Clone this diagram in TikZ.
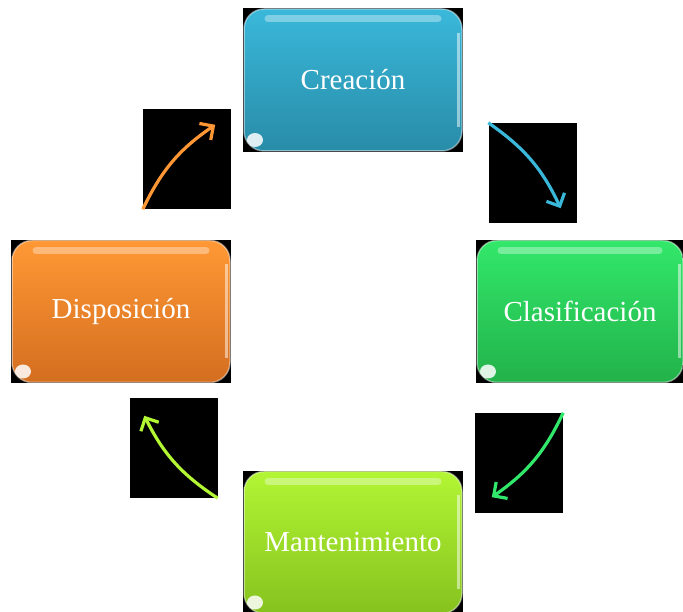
\documentclass[tikz,border=0pt]{standalone}
\usepackage{fontspec}
\setmainfont{Liberation Serif}
\usepackage{tikz}
\usetikzlibrary{shapes.geometric, arrows.meta, positioning, backgrounds}
\definecolor{creatop}{RGB}{58,184,218}
\definecolor{creabot}{RGB}{40,140,168}
\definecolor{disptop}{RGB}{255,152,52}
\definecolor{dispbot}{RGB}{212,110,32}
\definecolor{clastop}{RGB}{50,232,106}
\definecolor{clasbot}{RGB}{34,178,74}
\definecolor{manttop}{RGB}{178,246,52}
\definecolor{mantbot}{RGB}{134,194,30}
\tikzstyle{stage} = [rectangle, rounded corners=20pt, minimum width=218pt, minimum height=142pt, text centered, text=white, font=\fontsize{29}{34}\selectfont, draw=white, draw opacity=0.45, line width=1.5pt, inner sep=0pt, path picture={
    \draw[white, opacity=0.35, line width=7pt, line cap=round] ([xshift=24pt,yshift=-10pt]path picture bounding box.north west) -- ([xshift=-24pt,yshift=-10pt]path picture bounding box.north east);
    \draw[white, opacity=0.5, line width=3pt] ([xshift=-4pt,yshift=-24pt]path picture bounding box.north east) -- ([xshift=-4pt,yshift=24pt]path picture bounding box.south east);
    \fill[white, opacity=0.85] ([xshift=11pt,yshift=11pt]path picture bounding box.south west) ellipse (8pt and 7pt);}]
\tikzstyle{blackbox} = [rectangle, fill=black, minimum width=88pt, minimum height=100pt, inner sep=0pt]
\tikzstyle{arrow} = [line width=3.2pt, -{Straight Barb[length=10pt,width=20pt]}, bend left=15]

\begin{document}
\begin{tikzpicture}[x=1pt, y=1pt, node distance=231.5pt]
        \useasboundingbox (0,0) rectangle (683,612);
        \node (crea) [stage, top color=creatop, bottom color=creabot] at (353,532) {Creación};
        \node (disp) [stage, below of=crea, xshift=-232pt, top color=disptop, bottom color=dispbot] {Disposición};
        \node (clas) [stage, below of=crea, xshift=227pt, minimum width=206pt, top color=clastop, bottom color=clasbot] {Clasificación};
        \node (mant) [stage, below of=crea, yshift=-231pt, top color=manttop, bottom color=mantbot] {Mantenimiento};

        \begin{scope}[on background layer]
            \foreach \n in {crea,disp,clas,mant}
                \fill[black] (\n.north west) rectangle (\n.south east);
        \end{scope}

        \node (sqtr) [blackbox] at (532.5,439) {};
        \node (sqtl) [blackbox] at (187,453) {};
        \node (sqbr) [blackbox] at (519,149) {};
        \node (sqbl) [blackbox] at (173.5,164) {};


        \draw [arrow, creatop] (sqtr.north west) to ([shift={(-16pt,15pt)}]sqtr.south east);
        \draw [arrow, clastop] (sqbr.north east) to ([shift={(17pt,16pt)}]sqbr.south west);
        \draw [arrow, manttop] (sqbl.south east) to ([shift={(15pt,-18pt)}]sqbl.north west);
        \draw [arrow, disptop] (sqtl.south west) to ([shift={(-16pt,-16pt)}]sqtl.north east);


    \end{tikzpicture}
\end{document}
